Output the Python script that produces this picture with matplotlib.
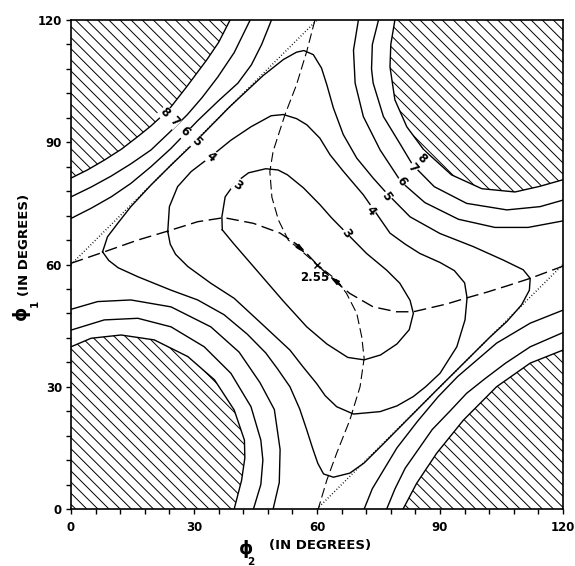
import numpy as np
import matplotlib
matplotlib.use("Agg")
import matplotlib.pyplot as plt
from matplotlib.ticker import MultipleLocator

plt.rcParams['lines.scale_dashes'] = False
plt.rcParams['hatch.linewidth'] = 0.7
plt.rcParams['font.family'] = ['DejaVu Sans']

# ---------------- data (phi2, phi1) ----------------
# boundaries of the hatched high-energy regions (contour 8)
hatch_tl = [(0, 81.2), (4, 83.2), (8.1, 85.6), (12.3, 88.3), (16.3, 91.4), (19.5, 94), (22, 96.3),
            (24.4, 98.7), (28.2, 103.6), (33.1, 110.2), (36, 114.5), (38.8, 120)]
hatch_tr = [(79, 120), (78, 114), (77.8, 108.5), (79, 100.4), (81.9, 93.8), (86, 88.2), (92.8, 82),
            (100.2, 78.6), (108.3, 77.8), (114.4, 79.2), (120, 80.8)]
hatch_bl = [(0, 39.8), (4.9, 41.9), (12.2, 42.7), (20.3, 41.5), (28.5, 37.4), (35, 31.7), (39.8, 24.3),
            (42.3, 16.9), (42.4, 12.5), (41.6, 7), (39.8, 0)]
hatch_br = [(81, 0), (84.3, 6.3), (89.2, 13.7), (95.7, 21.8), (103.8, 30), (112, 35.8), (120, 39)]
hatch_corners = [(0, 120), (120, 120), (0, 0), (120, 0)]

# contour 7 and 6 near each corner
c7_tl = [(0, 76.6), (4.9, 79), (9.8, 81.7), (14.6, 84.7), (19.5, 88.1), (24, 92.4), (28.4, 96.8),
         (32, 101), (35.8, 106), (39.8, 112), (43.7, 120)]
c6_tl = [(0, 71.3), (4.9, 73.8), (9.8, 76.6), (14.6, 79.9), (19.5, 84), (24.4, 88.5), (30.9, 95.3),
         (36, 100.2), (40.7, 104.5), (44, 109), (46.5, 114), (48.9, 120)]
c7_tr = [(75, 120), (73.5, 114), (73.3, 108), (73.7, 104.5), (76.2, 96.3), (80.2, 89.7), (83.3, 84.5),
         (88.6, 79.1), (96.5, 75), (106.3, 73.4), (114.4, 74.2), (120, 75.8)]
c6_tr = [(70.1, 120), (68.9, 112.6), (69.3, 104.5), (71.3, 96.3), (75.4, 88.1), (80.5, 80.3),
         (86.3, 75.2), (94.5, 71.1), (103.4, 69.1), (111.5, 69.1), (120, 70.7)]
c7_bl = [(0, 43.9), (8.1, 46.4), (16.3, 46.8), (24.4, 44.7), (32.5, 39.8), (39, 33.3), (43.9, 25.1),
         (46.3, 16.9), (46.8, 12), (46.3, 6), (44.5, 0)]
c6_bl = [(0, 49), (6.5, 50.9), (14.6, 51.3), (24.4, 49.6), (34.1, 44.7), (41, 38.5), (46.1, 31),
         (49.6, 24.4), (51, 14.6), (50.8, 6.5), (49.3, 0)]
c7_br = [(77, 0), (79, 4.9), (81.5, 10), (84.7, 14.6), (88.1, 19.5), (92.4, 24), (96.5, 28.4),
         (101, 32), (106, 35.8), (112, 39.8), (120, 43.3)]
c6_br = [(71.5, 0), (73.5, 5), (76.5, 10), (79.5, 15), (84.5, 21.5), (89.5, 27.5), (94.3, 32.5),
         (103.8, 40.7), (112, 45.6), (120, 48.8)]

# closed contours 5, 4, 3 around the minimum
c5_loop = [(7.7, 63.1), (8.9, 66.8), (11.4, 70.1), (14.6, 74.2), (19.5, 79.5), (24.4, 84.4), (30.5, 90.3),
           (38.8, 98.8), (46.9, 106.4), (51.8, 110.3), (55, 112.1), (56.8, 112.5), (59.1, 111.5),
           (61.1, 108.2), (62.4, 104.1), (64, 98.4), (66.4, 91.9), (69.7, 86.1), (73.7, 81.2), (77, 77.5),
           (82.7, 71.7), (90, 67.6), (98.1, 64.4), (105.4, 61.1), (110.3, 58.7), (112, 56.6), (111.8, 53.7),
           (109.9, 50.1), (106.3, 46), (102.2, 42.2), (95.7, 35.7), (89.2, 29.2), (81.9, 21.8), (76, 15.8),
           (71.5, 11.3), (68, 8.8), (64, 7.8), (61.6, 8.6), (60.2, 11.2), (58.9, 15), (57.5, 19.4),
           (55.8, 24.5), (53.4, 30), (50.3, 34.5), (47.5, 38.3), (43, 42.9), (37.3, 47.7), (30.9, 51.3),
           (24.4, 53.7), (16.3, 57), (11.5, 59.2), (9.2, 61), (7.7, 63.1)]
c4_loop = [(23.6, 68.1), (24, 74.2), (26, 79.1), (29.3, 82.8), (34.1, 86.5), (39, 90.5), (43.9, 93.8),
           (48.8, 96.5), (51.8, 96.8), (55, 95.8), (57.5, 94.3), (60.7, 91), (63.2, 86.9), (66.4, 82.9),
           (71.3, 77.1), (74.5, 72.5), (77.8, 67.7), (81.5, 65), (85.1, 62.7), (90, 60.5), (93.5, 58.5),
           (96, 55.5), (96.6, 51.8), (96.1, 46.4), (94.1, 39.8), (90, 33.3), (86.5, 30), (83.5, 27.6),
           (79.5, 25.3), (75.4, 23.9), (68.9, 23.3), (64.8, 25.1), (62, 27.8), (59.9, 30.8), (56.5, 35),
           (53.4, 39), (47, 45), (39.8, 51.7), (34.1, 55.4), (28.5, 59.5), (25.5, 62.5), (24.2, 65),
           (23.6, 68.1)]
c3_loop = [(36.9, 68.5), (36.8, 71.7), (37.6, 76.6), (40, 80), (43.3, 82.5), (47.5, 83.5), (50.5, 83.2),
           (52.8, 82), (56.7, 78.8), (60.7, 74.7), (63.5, 71.5), (67.2, 67.7), (72.1, 62.7), (77, 58.6),
           (80.2, 55.4), (82.7, 51.2), (83.5, 48), (82.5, 44), (79.5, 40.5), (75.5, 37.8), (71.5, 36.6),
           (67.5, 37.2), (62.4, 40.5), (57.5, 44.7), (51.8, 51), (44.5, 59.5), (39.6, 65.2), (36.9, 68.5)]

# dashed minimum-energy paths
path_a = [(0, 60.3), (8.1, 63.1), (16.3, 66), (23.6, 68.2), (30.9, 70.5), (37.3, 71.5), (44.5, 70.1),
          (51, 67.7), (55.9, 64.4), (60, 60), (64, 56.2), (68, 52.9), (73.7, 49.6), (79.4, 48.4),
          (83.5, 48.4), (91.6, 50.3), (96.5, 51.8), (101.4, 53.2), (106.5, 54.8), (112, 56.6), (120, 59.6)]
path_b = [(59.5, 120), (57.5, 112.3), (55, 104.1), (52.2, 96.8), (49.3, 87.8), (48.5, 82.8), (49, 76.5),
          (50.6, 70.9), (53, 66), (55.9, 63.6), (60, 60), (64.8, 56.2), (67.2, 52.9), (69.7, 48),
          (70.9, 42.3), (71.5, 37), (70.5, 30), (68, 21.8), (64.8, 13.7), (62.4, 7.1), (60.3, 0)]

# dotted straight lines
dot_upper = [(0, 60), (60, 120)]
dot_lower = [(60, 0), (120, 60)]

# contour labels
lab_text = ['8', '7', '6', '5', '4', '3', '8', '7', '6', '5', '4', '3']
lab_x = [22.8, 25.2, 27.6, 30.5, 34.1, 40.7, 85.5, 83.4, 80.7, 76.8, 73.1, 67.2]
lab_y = [97.3, 95.0, 92.6, 90.1, 86.5, 79.5, 86.1, 83.7, 80.3, 76.6, 73.2, 67.7]
lab_rot = [-45, -45, -45, -45, -40, -35, -45, -50, -55, -55, -50, -55]

min_x, min_y, min_label = 60, 60, '2.55'

ticks_major = [0, 30, 60, 90, 120]

# ---------------- figure ----------------
fig = plt.figure(figsize=(5.75, 5.66), dpi=100)
ax = fig.add_axes([71 / 575, 1 - 509 / 566, (563 - 71) / 575, (509 - 20) / 566])

hatch_sets = [(hatch_tl, hatch_corners[0]), (hatch_tr, hatch_corners[1]),
              (hatch_bl, hatch_corners[2]), (hatch_br, hatch_corners[3])]
for bnd, corner in hatch_sets:
    pts = np.array(bnd + [corner])
    ax.fill(pts[:, 0], pts[:, 1], facecolor='none', edgecolor='black', lw=0, hatch='\\\\\\')
    b = np.array(bnd)
    ax.plot(b[:, 0], b[:, 1], color='black', lw=1.0)

for line in [c7_tl, c6_tl, c7_tr, c6_tr, c7_bl, c6_bl, c7_br, c6_br, c5_loop, c4_loop, c3_loop]:
    p = np.array(line)
    ax.plot(p[:, 0], p[:, 1], color='black', lw=1.0, solid_joinstyle='round')

for line in [dot_upper, dot_lower]:
    p = np.array(line)
    ax.plot(p[:, 0], p[:, 1], color='black', lw=1.1, linestyle=(0, (0.6, 1.6)))

pa = np.array(path_a)
ax.plot(pa[:, 0], pa[:, 1], color='black', lw=1.0, linestyle=(0, (9, 4)))
pb = np.array(path_b)
ax.plot(pb[:, 0], pb[:, 1], color='black', lw=0.8, linestyle=(0, (7, 3)))

# small arrow heads on the paths near the minimum
ax.annotate('', xy=(57.6, 62.3), xytext=(54.2, 65.6),
            arrowprops=dict(arrowstyle='-|>,head_length=0.6,head_width=0.15', color='black', lw=0.8))
ax.annotate('', xy=(62.6, 57.5), xytext=(66.3, 54.6),
            arrowprops=dict(arrowstyle='-|>,head_length=0.6,head_width=0.15', color='black', lw=0.8))

ax.plot([min_x], [min_y], marker='x', ms=5, mew=1.0, color='black')
ax.text(min_x - 0.5, min_y - 3.3, min_label, ha='center', va='center', fontsize=8.5,
        fontweight='bold')

for t, x, y, r in zip(lab_text, lab_x, lab_y, lab_rot):
    ax.text(x, y, t, ha='center', va='center', rotation=r, fontsize=8.5, fontweight='bold',
            bbox=dict(facecolor='white', edgecolor='none', pad=0.3), zorder=5)

ax.set_xlim(0, 120)
ax.set_ylim(0, 120)
ax.xaxis.set_minor_locator(MultipleLocator(6))
ax.yaxis.set_minor_locator(MultipleLocator(6))
ax.set_xticks(ticks_major)
ax.set_yticks(ticks_major)
ax.tick_params(which='both', direction='out', length=3.5, width=1.0, top=False, right=False)
ax.tick_params(axis='x', which='major', pad=5)
ax.tick_params(axis='y', which='major', pad=3)
for lbl in ax.get_xticklabels() + ax.get_yticklabels():
    lbl.set_fontweight('bold')
    lbl.set_fontsize(8.5)
for s in ax.spines.values():
    s.set_linewidth(1.2)

# axis titles
fig.text(246 / 575, 1 - 549 / 566, '\u03d5', fontsize=13, fontweight='bold', ha='center', va='center')
fig.text(251 / 575, 1 - 562 / 566, '2', fontsize=7.5, fontweight='bold', ha='center', va='center')
fig.text(320 / 575, 1 - 546 / 566, '(IN DEGREES)', fontsize=9.5, fontweight='bold', ha='center',
         va='center')
fig.text(21 / 575, 1 - 313 / 566, '\u03d5', fontsize=13, fontweight='bold', ha='center', va='center',
         rotation=90)
fig.text(35 / 575, 1 - 303 / 566, '1', fontsize=7.5, fontweight='bold', ha='center', va='center',
         rotation=90)
fig.text(25 / 575, 1 - 245 / 566, '(IN DEGREES)', fontsize=9.5, fontweight='bold', ha='center',
         va='center', rotation=90)

fig.savefig('out.png', dpi=100)
